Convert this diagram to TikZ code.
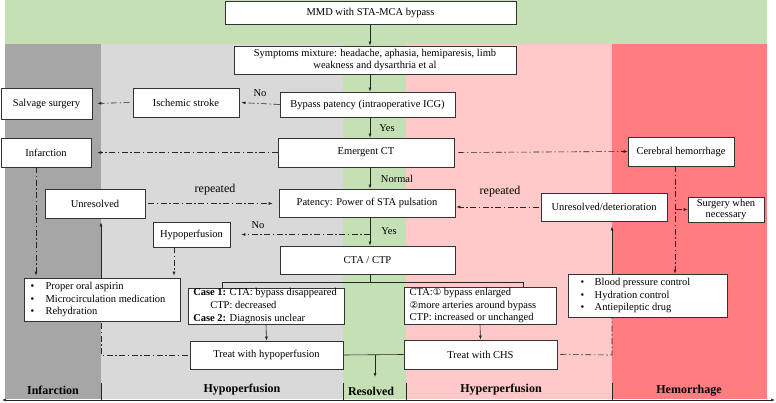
\documentclass[tikz,border=0pt]{standalone}
\usepackage{fontspec}
\setmainfont{Liberation Serif}
\newfontfamily\symfont{DejaVu Sans}
\usetikzlibrary{arrows.meta}
\definecolor{bandgreen}{HTML}{C5E0B4}
\definecolor{infgray}{HTML}{A6A6A6}
\definecolor{hypgray}{HTML}{D9D9D9}
\definecolor{hyppink}{HTML}{FFC9C9}
\definecolor{hemred}{HTML}{FF7C80}
\begin{document}
\begin{tikzpicture}[x=1pt,y=-1pt,
  box/.style={draw=black!80, line width=0.7pt, fill=white, inner sep=0pt, align=center,
              font=\fontsize{10.5}{12.7}\selectfont},
  conn/.style={line width=0.6pt, draw=black!85},
  arr/.style={conn, -{Latex[length=4pt,width=3pt]}},
  dd/.style={conn, dash pattern=on 6pt off 2.5pt on 1.5pt off 2.5pt},
  ddarr/.style={dd, -{Latex[length=4pt,width=3pt]}},
  lbl/.style={font=\fontsize{10.5}{12}\selectfont, inner sep=1pt},
  replbl/.style={font=\fontsize{12}{14}\selectfont, inner sep=1pt},
  bandlbl/.style={font=\bfseries\fontsize{12}{14}\selectfont, inner sep=1pt}
]
\useasboundingbox (0,0) rectangle (776,403);
% background bands
\fill[bandgreen] (5,0) rectangle (767,44);
\fill[infgray] (5,44) rectangle (101,399);
\fill[hypgray] (101,44) rectangle (343,399);
\fill[bandgreen] (343,44) rectangle (406,399);
\fill[hyppink] (406,44) rectangle (612,399);
\fill[hemred] (612,44) rectangle (767,399);

% helper coordinates
\coordinate (ax) at (370,0);
\coordinate (infx) at (36,0);
\coordinate (hx) at (174,0);
\coordinate (cx) at (675,0);
\coordinate (cl) at (222,282);
\coordinate (cr) at (523,282);
\coordinate (lx) at (101,355);
\coordinate (rx) at (612,355);
\coordinate (rs) at (375,355);
\coordinate (re) at (375,377);

% nodes
\node[box, minimum width=291pt, minimum height=23pt] (mmd) at (370.5,12.5) {MMD with STA-MCA bypass};
\node[box, minimum width=282pt, minimum height=28pt] (sym) at (375,60)
  {Symptoms mixture: headache, aphasia, hemiparesis, limb\\weakness and dysarthria et al};
\node[box, minimum width=175pt, minimum height=25pt] (byp) at (367.5,104.5) {Bypass patency (intraoperative ICG)};
\node[box, minimum width=176pt, minimum height=29pt] (ect) at (366,152.5) {Emergent CT};
\node[box, minimum width=176pt, minimum height=28pt] (pat) at (367,203) {Patency: Power of STA pulsation};
\node[box, minimum width=175pt, minimum height=28pt] (cta) at (367.5,260) {CTA / CTP};
\node[box, minimum width=91pt, minimum height=31pt] (salv) at (46.5,103.5) {Salvage surgery};
\node[box, minimum width=106pt, minimum height=29pt] (isch) at (186,102.5) {Ischemic stroke};
\node[box, minimum width=90pt, minimum height=29pt] (inf) at (46,152.5) {Infarction};
\node[box, minimum width=100pt, minimum height=29pt] (unr) at (95,203.5) {Unresolved};
\node[box, minimum width=77pt, minimum height=25pt] (hypo) at (191.5,234.5) {Hypoperfusion};
\node[box, minimum width=106pt, minimum height=29pt] (cer) at (681,151.5) {Cerebral hemorrhage};
\node[box, minimum width=126pt, minimum height=28pt] (unrd) at (604,207) {Unresolved/deterioration};
\node[box, minimum width=76pt, minimum height=25pt, font=\fontsize{10.5}{11.5}\selectfont] (surg) at (726,209.5) {Surgery when\\necessary};
\node[box, minimum width=156pt, minimum height=43pt, align=left] (bull1) at (102,299.5)
  {\makebox[15pt][l]{•}Proper oral aspirin\\\makebox[15pt][l]{•}Microcirculation medication\rule{8pt}{0pt}\\\makebox[15pt][l]{•}Rehydration};
\node[box, minimum width=156pt, minimum height=36pt, align=left] (case) at (266,306)
  {\textbf{Case 1:} CTA: bypass disappeared\rule{2pt}{0pt}\\\hspace*{17pt}CTP: decreased\\\textbf{Case 2:} Diagnosis unclear};
\node[box, minimum width=153pt, minimum height=28pt] (thypo) at (266.5,355) {Treat with hypoperfusion};
\node[box, minimum width=152pt, minimum height=37pt, align=left] (ctar) at (480,305.5)
  {CTA:{\symfont\fontsize{9.5}{12}\selectfont ①} bypass enlarged\\{\symfont\fontsize{9.5}{12}\selectfont ②}more arteries around bypass\rule{14pt}{0pt}\\CTP: increased or unchanged};
\node[box, minimum width=153pt, minimum height=29pt] (tchs) at (480.5,354.5) {Treat with CHS};
\node[box, minimum width=159pt, minimum height=43pt, align=left] (bull2) at (647.5,295.5)
  {\makebox[14pt][l]{•}Blood pressure control\rule{24pt}{0pt}\\\makebox[14pt][l]{•}Hydration control\\\makebox[14pt][l]{•}Antiepileptic drug};

% main vertical arrows
\draw[arr] (mmd.south -| ax) -- (sym.north -| ax);
\draw[arr] (sym.south -| ax) -- (byp.north -| ax);
\draw[arr] (byp.south -| ax) -- (ect.north -| ax);
\draw[arr] (ect.south -| ax) -- (pat.north -| ax);
\draw[arr] (pat.south -| ax) -- (cta.north -| ax);
\node[lbl] (yes1) at (387,128) {Yes};
\node[lbl] (normal) at (397,179) {Normal};
\node[lbl] (yes2) at (389,231) {Yes};

% dash-dot branches
\draw[ddarr, shorten >=2pt] (byp.west) -- (isch.east);
\node[lbl] (no1) at (260,93) {No};
\draw[ddarr, shorten <=3pt, shorten >=5pt] (isch.west) -- (salv.east);
\draw[ddarr, shorten >=6pt] (ect.west) -- (inf.east);
\draw[ddarr, shorten <=4pt] (ect.east) -- (cer.west);
\draw[ddarr, shorten <=3pt, shorten >=6pt] (unr.east) -- (unr.east -| pat.west);
\node[replbl] (rep1) at (215,190) {repeated};
\draw[ddarr, shorten <=2pt, shorten >=1pt] (unrd.west) -- (unrd.west -| pat.east);
\node[replbl] (rep2) at (500,192) {repeated};
\draw[ddarr, shorten >=11pt] (ax |- hypo.east) -- (hypo.east);
\node[lbl] (no2) at (258,225) {No};
\draw[ddarr, shorten >=2pt] (inf.south -| infx) -- (bull1.north -| infx);
\draw[ddarr, shorten >=2pt] (hypo.south -| hx) -- (bull1.north -| hx);
\draw[ddarr] (cer.south -| cx) -- (bull2.north -| cx);
\draw[ddarr, shorten <=1pt] (surg.west -| cx) -- (surg.west);

% CTA / CTP split
\draw[conn] (cta.south -| ax) -- (ax |- cl);
\draw[conn] (case.north -| cl) -- (cl) -- (cr) -- (ctar.north -| cr);
\draw[arr] (case.south) -- (thypo.north);
\draw[arr] (ctar.south) -- (tchs.north);
\draw[conn] (thypo.east) -- (tchs.west);
\draw[arr] (rs) -- (re);

% feedback lines
\draw[dd, shorten <=2pt] (thypo.west) -- (lx) -- (bull1.south -| lx);
\draw[dd, shorten <=3pt] (tchs.east) -- (rx) -- (bull2.south -| rx);
\draw[arr, shorten >=4pt] (bull1.north -| lx) -- (unr.south -| lx);
\draw[arr, shorten >=5pt] (bull2.north -| rx) -- (unrd.south -| rx);

% bottom labels and axis
\foreach \sx in {101,343,406,612} \draw[conn] (\sx,383) -- (\sx,400);
\node[bandlbl] (bInf) at (53,390) {Infarction};
\node[bandlbl] (bHypo) at (242,390) {Hypoperfusion};
\node[bandlbl] (bRes) at (371,391) {Resolved};
\node[bandlbl] (bHyper) at (501,390) {Hyperperfusion};
\node[bandlbl] (bHem) at (689,391) {Hemorrhage};
\draw[conn, {Latex[length=4pt,width=3pt]}-{Latex[length=4pt,width=3pt]}] (2,400) -- (775,400);
\end{tikzpicture}
\end{document}
